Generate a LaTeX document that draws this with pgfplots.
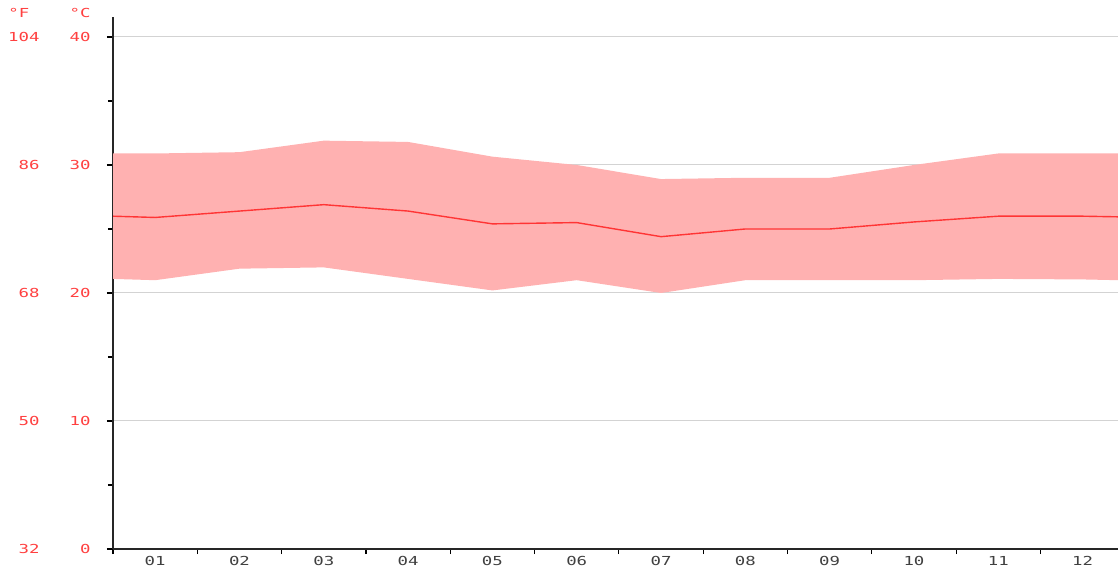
\documentclass[border=0pt]{standalone}
\usepackage{fontspec}
\setmainfont{DejaVu Sans Mono}[FakeStretch=1.4]
\usepackage{pgfplots}
\pgfplotsset{compat=1.18}
\usepgfplotslibrary{fillbetween}
\definecolor{bandc}{HTML}{FFB1B1}
\definecolor{linec}{HTML}{FF3535}
\definecolor{labc}{HTML}{FF4040}
\definecolor{xlab}{HTML}{404040}
\definecolor{gridc}{HTML}{D3D3D3}
\tikzset{lab/.style={inner sep=0pt, text=labc, font=\fontsize{6.2}{7}\selectfont}}
\begin{document}
\begin{tikzpicture}
\begin{axis}[
  at={(0,0)}, anchor=south west,
  scale only axis, width=502.5pt, height=266pt,
  xmin=0.5, xmax=12.42, ymin=0, ymax=41.56,
  axis lines=left, axis line style={-, line width=0.75pt, black!85},
  xtick={1,...,12},
  xticklabels={01,02,03,04,05,06,07,08,09,10,11,12},
  major x tick style={draw=none},
  minor xtick={0.5,1.5,...,12.5},
  ytick={0,10,20,30,40}, yticklabels={},
  minor ytick={5,15,25,35},
  tick align=outside,
  major tick length=3pt, minor tick length=2.6pt,
  every tick/.style={line width=0.6pt, black},
  ymajorgrids, grid style={gridc, line width=0.5pt},
  xticklabel style={anchor=north, inner sep=0pt, yshift=-0.35pt, text=xlab, font=\fontsize{6.2}{7}\selectfont},
]
\addplot[name path=up, draw=none] coordinates {
(0.5,30.9) (1,30.9) (2,31.0) (3,31.9) (4,31.8) (5,30.65) (6,30.0) (7,28.9) (8,29.0) (9,29.0) (10,30.0) (11,30.9) (12,30.9) (12.42,30.9)};
\addplot[name path=lo, draw=none] coordinates {
(0.5,21.1) (1,21.0) (2,21.9) (3,22.0) (4,21.1) (5,20.2) (6,21.0) (7,20.0) (8,21.0) (9,21.0) (10,21.0) (11,21.1) (12,21.06) (12.42,21.0)};
\addplot[fill=bandc, draw=none] fill between[of=up and lo];
\addplot[linec, line width=0.7pt] coordinates {
(0.5,26.0) (1,25.9) (2,26.4) (3,26.9) (4,26.4) (5,25.4) (6,25.5) (7,24.4) (8,25.0) (9,25.0) (10,25.55) (11,26.0) (12,26.0) (12.42,25.95)};
\end{axis}
\node[lab, anchor=east] at (-11pt,0pt) {0};
\node[lab, anchor=east] at (-11pt,64pt) {10};
\node[lab, anchor=east] at (-11pt,128pt) {20};
\node[lab, anchor=east] at (-11pt,192pt) {30};
\node[lab, anchor=east] at (-11pt,256pt) {40};
\node[lab, anchor=east] at (-36.5pt,0pt) {32};
\node[lab, anchor=east] at (-36.5pt,64pt) {50};
\node[lab, anchor=east] at (-36.5pt,128pt) {68};
\node[lab, anchor=east] at (-36.5pt,192pt) {86};
\node[lab, anchor=east] at (-36.5pt,256pt) {104};
\node[lab, anchor=east] at (-11pt,268.1pt) {°C};
\node[lab, anchor=west] at (-52.5pt,268.1pt) {°F};
\pgfresetboundingbox
\useasboundingbox (-56.5pt,-10pt) rectangle (502.5pt,274.5pt);
\end{tikzpicture}
\end{document}
